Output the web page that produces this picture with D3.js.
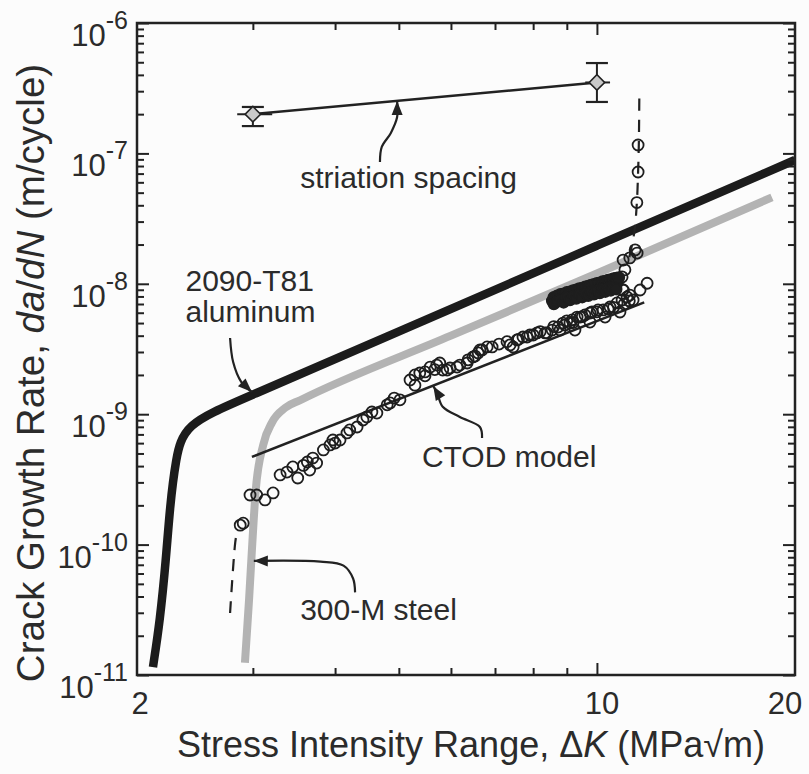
<!DOCTYPE html>
<html>
<head>
<meta charset="utf-8">
<script src="https://cdn.jsdelivr.net/npm/d3@7/dist/d3.min.js"></script>
<style>
  html,body{margin:0;padding:0;background:#fcfcfc;}
  svg{display:block;}
  text{font-family:"Liberation Sans",Arial,Helvetica,sans-serif;fill:#2b2b2b;}
</style>
</head>
<body>
<svg id="chart" width="809" height="774"></svg>
<script>
// ---------------- data (ΔK in MPa√m, da/dN in m/cycle) ----------------
const xTickMajor = [2, 10, 20];
const xTickMinor = [3, 4, 5, 6, 7, 8, 9];
const yDecades = [-11, -10, -9, -8, -7, -6];

// 2090-T81 aluminum (thick black) – control points of the smooth curve
const alK = [2.115, 2.168, 2.213, 2.245, 2.29, 2.357, 2.87, 5.0, 10.0, 20.0];
const alR = [1.15e-11, 2.64e-11, 7.6e-11, 2.0e-10, 4.5e-10, 8.41e-10, 1.28e-9, 4.31e-9, 1.96e-8, 8.9e-8];

// 300-M steel (thick gray)
const stK = [2.918, 2.96, 2.99, 3.03, 3.11, 3.21, 3.36, 3.54, 6.0, 10.0, 18.45];
const stR = [1.24e-11, 3.76e-11, 9.1e-11, 2.6e-10, 5.8e-10, 8.7e-10, 1.12e-9, 1.28e-9, 4.0e-9, 1.2e-8, 4.6e-8];

// CTOD model (thin line)
const ctodK = [2.99, 11.8];
const ctodR = [4.7e-10, 7.2e-9];

// dashed fit segments through the 300-M data
const dashLowK = [2.77, 2.82, 2.84];
const dashLowR = [2.99e-11, 1.03e-10, 1.29e-10];
const dashHighK = [11.2, 11.4, 11.5, 11.55, 11.58, 11.6];
const dashHighR = [1.6e-8, 2.5e-8, 4.2e-8, 7.2e-8, 1.2e-7, 2.8e-7];

// striation spacing
const striK = [3.0, 10.0];
const striR = [2.0e-7, 3.5e-7];
const striRLo = [1.62e-7, 2.48e-7];
const striRHi = [2.27e-7, 4.93e-7];
const striKLo = [2.84, 9.6];
const striKHi = [3.21, 10.47];

// 300-M steel experimental data (open circles)
const openK = [
  2.87, 2.90, 2.97, 3.04, 3.13, 3.22, 3.30, 3.38, 3.45, 3.51, 3.58, 3.63, 3.66, 3.70, 3.75, 3.84, 3.93,
  3.97, 4.00, 4.07, 4.17, 4.21, 4.32, 4.41, 4.47, 4.55, 4.63, 4.80, 4.85, 4.92, 5.02, 5.20, 5.29, 5.29,
  5.38, 5.48, 5.48, 5.58, 5.67, 5.71, 5.77, 5.83, 5.92, 5.98, 6.13, 6.19, 6.35, 6.37, 6.48, 6.53, 6.60,
  6.64, 6.69, 6.81, 6.93, 7.10, 7.30, 7.38, 7.46, 7.56, 7.60, 7.72, 7.83, 7.91, 8.00, 8.11, 8.20, 8.34,
  8.40, 8.55, 8.60, 8.73, 8.79, 8.88, 8.94, 9.00, 9.10, 9.17, 9.20, 9.26, 9.33, 9.43, 9.50, 9.59, 9.76,
  9.76, 9.83, 10.0, 10.04, 10.22, 10.29, 10.40, 10.47, 10.60, 10.73, 10.84, 10.92, 11.0, 11.11, 11.20,
  11.35, 11.63, 11.92,
  // rising to fracture
  10.92, 10.96, 11.03, 10.96, 11.22, 11.43, 11.51, 10.96, 11.22, 11.5, 11.55, 11.55
];
const openR = [
  1.41e-10, 1.46e-10, 2.40e-10, 2.40e-10, 2.20e-10, 2.49e-10, 3.42e-10, 3.60e-10, 3.94e-10, 3.24e-10, 4.05e-10, 4.30e-10, 3.73e-10, 4.61e-10, 4.22e-10, 5.32e-10, 5.81e-10,
  6.34e-10, 6.01e-10, 6.34e-10, 7.18e-10, 7.57e-10, 7.98e-10, 9.03e-10, 9.52e-10, 1.04e-9, 1.02e-9, 1.18e-9, 1.22e-9, 1.33e-9, 1.29e-9, 1.83e-9, 1.67e-9, 2.0e-9,
  2.07e-9, 1.97e-9, 2.11e-9, 2.30e-9, 2.20e-9, 2.38e-9, 2.47e-9, 2.18e-9, 2.18e-9, 2.26e-9, 2.30e-9, 2.38e-9, 2.47e-9, 2.61e-9, 2.75e-9, 2.79e-9, 2.95e-9,
  3.11e-9, 3.11e-9, 3.28e-9, 3.28e-9, 3.45e-9, 3.60e-9, 3.40e-9, 3.28e-9, 3.71e-9, 3.75e-9, 3.91e-9, 3.91e-9, 4.05e-9, 4.05e-9, 4.20e-9, 4.30e-9, 4.20e-9,
  4.20e-9, 4.42e-9, 4.70e-9, 4.66e-9, 4.42e-9, 5.00e-9, 4.83e-9, 5.20e-9, 5.00e-9, 5.28e-9, 5.05e-9, 4.42e-9, 5.56e-9, 5.56e-9, 5.60e-9, 5.77e-9, 5.97e-9,
  5.09e-9, 6.08e-9, 6.10e-9, 6.30e-9, 6.30e-9, 5.56e-9, 6.40e-9, 6.64e-9, 6.60e-9, 7.13e-9, 6.08e-9, 7.51e-9, 7.00e-9, 7.92e-9, 7.40e-9,
  7.51e-9, 8.96e-9, 1.01e-8,
  1.13e-8, 1.52e-8, 1.28e-8, 8.96e-9, 1.58e-8, 1.82e-8, 1.72e-8, 8.96e-9, 8.2e-9, 4.2e-8, 7.2e-8, 1.16e-7
];

// dense band of filled symbols
const fillK = [
  8.55, 8.6, 8.65, 8.7, 8.75, 8.8, 8.85, 8.9, 8.95, 9.0, 9.05, 9.1, 9.15, 9.2, 9.25, 9.3, 9.35, 9.4, 9.45,
  9.5, 9.55, 9.6, 9.65, 9.7, 9.75, 9.8, 9.85, 9.9, 9.95, 10.0, 10.05, 10.1, 10.15, 10.2, 10.25, 10.3,
  10.35, 10.4, 10.45, 10.5, 10.55, 10.6, 10.65, 10.7, 10.75, 10.8,
  8.6, 8.7, 8.8, 8.9, 9.0, 9.1, 9.2, 9.3, 9.4, 9.5, 9.6, 9.7, 9.8, 9.9, 10.0, 10.1, 10.2, 10.3, 10.4,
  10.5, 10.6, 10.7
];
const fillR = [
  7.4e-9, 7.9e-9, 7.2e-9, 8.1e-9, 7.5e-9, 8.3e-9, 7.6e-9, 8.4e-9, 7.8e-9, 8.6e-9, 7.9e-9, 8.7e-9, 8.0e-9, 8.9e-9, 8.1e-9, 9.0e-9, 8.2e-9, 9.2e-9, 8.4e-9,
  9.3e-9, 8.5e-9, 9.5e-9, 8.6e-9, 9.6e-9, 8.8e-9, 9.8e-9, 8.9e-9, 9.9e-9, 9.0e-9, 1.01e-8, 9.2e-9, 1.02e-8, 9.3e-9, 1.04e-8, 9.5e-9, 1.05e-8,
  9.6e-9, 1.07e-8, 9.8e-9, 1.08e-8, 9.9e-9, 1.10e-8, 1.0e-8, 1.11e-8, 1.02e-8, 1.12e-8,
  7.0e-9, 7.3e-9, 7.6e-9, 7.2e-9, 7.9e-9, 7.5e-9, 8.0e-9, 7.7e-9, 8.3e-9, 7.9e-9, 8.5e-9, 8.1e-9, 8.6e-9, 8.3e-9, 8.8e-9, 8.5e-9, 9.0e-9, 8.7e-9, 9.2e-9,
  8.9e-9, 9.4e-9, 9.1e-9
];

// annotations (positions in data units)
const labelText = ["striation spacing", "2090-T81", "aluminum", "CTOD model", "300-M steel"];
const labelK = [3.54, 2.37, 2.37, 5.42, 3.54];
const labelR = [5.43e-8, 8.81e-9, 5.09e-9, 3.94e-10, 2.64e-11];

const arrowStriK = [4.68, 4.71, 4.86, 4.97, 4.97];
const arrowStriR = [8.59e-8, 1.12e-7, 1.43e-7, 1.90e-7, 2.52e-7];
const arrowAlK = [2.77, 2.80, 2.88, 2.99];
const arrowAlR = [3.84e-9, 2.51e-9, 1.77e-9, 1.48e-9];
const arrowCtK = [6.69, 6.64, 6.19, 5.83, 5.71, 5.64];
const arrowCtR = [6.57e-10, 7.98e-10, 9.52e-10, 1.14e-9, 1.48e-9, 1.64e-9];
const arrowStK = [4.29, 4.26, 4.12, 3.8, 3.01];
const arrowStR = [4.3e-11, 5.5e-11, 6.9e-11, 7.4e-11, 7.5e-11];

// ---------------- drawing ----------------
const ink = "#222";
const svg = d3.select("#chart");
const W = 809, H = 774;
const pL = 137, pR = 795, pT = 23, pB = 675;

svg.append("rect").attr("width", W).attr("height", H).attr("fill", "#fcfcfc");

const x = d3.scaleLog().domain([2, 20]).range([pL, pR]);
const y = d3.scaleLog().domain([1e-11, 1e-6]).range([pB, pT]);

const zip = (a, b) => a.map((v, i) => [v, b[i]]);
const line = d3.line().x(d => x(d[0])).y(d => y(d[1]));
const smooth = d3.line().x(d => x(d[0])).y(d => y(d[1])).curve(d3.curveMonotoneX);
const basis = d3.line().x(d => x(d[0])).y(d => y(d[1])).curve(d3.curveBasis);
const curvy = d3.line().x(d => x(d[0])).y(d => y(d[1])).curve(d3.curveCatmullRom.alpha(0.5));

svg.append("clipPath").attr("id", "plotclip")
  .append("rect").attr("x", pL).attr("y", pT).attr("width", pR - pL).attr("height", pB - pT);

const g = svg.append("g").attr("clip-path", "url(#plotclip)");

// 300-M steel gray band
g.append("path").datum(zip(stK, stR)).attr("d", smooth)
  .attr("fill", "none").attr("stroke", "#b3b3b3").attr("stroke-width", 8);

// aluminum black band
g.append("path").datum(zip(alK, alR)).attr("d", basis)
  .attr("fill", "none").attr("stroke", "#1c1c1c").attr("stroke-width", 8.5);

// CTOD line
g.append("path").datum(zip(ctodK, ctodR)).attr("d", line)
  .attr("fill", "none").attr("stroke", ink).attr("stroke-width", 2.5);

// dashed
[zip(dashLowK, dashLowR), zip(dashHighK, dashHighR)].forEach(dd => {
  g.append("path").datum(dd).attr("d", curvy)
    .attr("fill", "none").attr("stroke", ink).attr("stroke-width", 2.2)
    .attr("stroke-dasharray", "12,9");
});

// data circles
g.append("g").selectAll("circle").data(zip(openK, openR)).join("circle")
  .attr("cx", d => x(d[0])).attr("cy", d => y(d[1])).attr("r", 5.5)
  .attr("fill", "none").attr("stroke", "#1e1e1e").attr("stroke-width", 1.8);
g.append("g").selectAll("circle").data(zip(fillK, fillR)).join("circle")
  .attr("cx", d => x(d[0])).attr("cy", d => y(d[1])).attr("r", 5.5)
  .attr("fill", "#1e1e1e").attr("stroke", "#1e1e1e").attr("stroke-width", 1.5);

// striation spacing
g.append("path").datum(zip(striK, striR)).attr("d", line)
  .attr("fill", "none").attr("stroke", ink).attr("stroke-width", 2.5);
striK.forEach((k, i) => {
  const cx = x(k);
  g.append("line").attr("x1", cx).attr("x2", cx).attr("y1", y(striRLo[i])).attr("y2", y(striRHi[i]))
    .attr("stroke", ink).attr("stroke-width", 2);
  [striRLo[i], striRHi[i]].forEach(r => {
    g.append("line").attr("x1", cx - 11).attr("x2", cx + 11).attr("y1", y(r)).attr("y2", y(r))
      .attr("stroke", ink).attr("stroke-width", 2.2);
  });
  g.append("line").attr("x1", x(striKLo[i])).attr("x2", x(striKHi[i])).attr("y1", y(striR[i])).attr("y2", y(striR[i]))
    .attr("stroke", ink).attr("stroke-width", 2);
  g.append("path").attr("d", d3.symbol(d3.symbolSquare, 120)())
    .attr("transform", `translate(${cx},${y(striR[i])}) rotate(45)`)
    .attr("fill", "#c9c9c9").attr("stroke", ink).attr("stroke-width", 1.6);
});

// arrows
function arrow(ks, rs) {
  const pts = zip(ks, rs);
  svg.append("path").datum(pts).attr("d", curvy)
    .attr("fill", "none").attr("stroke", ink).attr("stroke-width", 2.2);
  const n = pts.length;
  const tx = x(pts[n - 1][0]), ty = y(pts[n - 1][1]);
  const px = x(pts[n - 2][0]), py = y(pts[n - 2][1]);
  const ang = Math.atan2(ty - py, tx - px) * 180 / Math.PI;
  svg.append("path").attr("d", "M0,0 L-14,-5.5 L-14,5.5 Z")
    .attr("transform", `translate(${tx},${ty}) rotate(${ang})`)
    .attr("fill", ink);
}
arrow(arrowStriK, arrowStriR);
arrow(arrowAlK, arrowAlR);
arrow(arrowCtK, arrowCtR);
arrow(arrowStK, arrowStR);

// labels
labelText.forEach((t, i) => {
  svg.append("text").attr("x", x(labelK[i])).attr("y", y(labelR[i]))
    .attr("font-size", 30).text(t);
});

// axes ticks (inward)
const yMinor = [];
yDecades.slice(0, -1).forEach(e => { for (let m = 2; m <= 9; m++) yMinor.push(m * Math.pow(10, e)); });
const yMajor = yDecades.map(e => Math.pow(10, e));

function tickStyle(sel) {
  sel.select(".domain").remove();
  sel.selectAll("line").attr("stroke", ink).attr("stroke-width", 2);
  sel.selectAll("text").remove();
}
svg.append("g").attr("transform", `translate(0,${pB})`)
  .call(d3.axisBottom(x).tickValues(xTickMinor).tickSize(-7)).call(tickStyle);
svg.append("g").attr("transform", `translate(0,${pB})`)
  .call(d3.axisBottom(x).tickValues([10]).tickSize(-12)).call(tickStyle);
svg.append("g").attr("transform", `translate(0,${pT})`)
  .call(d3.axisTop(x).tickValues(xTickMinor).tickSize(-7)).call(tickStyle);
svg.append("g").attr("transform", `translate(0,${pT})`)
  .call(d3.axisTop(x).tickValues([10]).tickSize(-12)).call(tickStyle);
svg.append("g").attr("transform", `translate(${pL},0)`)
  .call(d3.axisLeft(y).tickValues(yMinor).tickSize(-7)).call(tickStyle);
svg.append("g").attr("transform", `translate(${pL},0)`)
  .call(d3.axisLeft(y).tickValues(yMajor).tickSize(-12)).call(tickStyle);
svg.append("g").attr("transform", `translate(${pR},0)`)
  .call(d3.axisRight(y).tickValues(yMinor).tickSize(-7)).call(tickStyle);
svg.append("g").attr("transform", `translate(${pR},0)`)
  .call(d3.axisRight(y).tickValues(yMajor).tickSize(-12)).call(tickStyle);

// frame
svg.append("rect").attr("x", pL).attr("y", pT).attr("width", pR - pL).attr("height", pB - pT)
  .attr("fill", "none").attr("stroke", ink).attr("stroke-width", 2.5);

// y tick labels
yDecades.forEach(e => {
  const t = svg.append("text").attr("x", pL - 9).attr("y", y(Math.pow(10, e)) + 23)
    .attr("text-anchor", "end").attr("font-size", 31);
  t.append("tspan").text("10");
  t.append("tspan").attr("dy", -17).attr("font-size", 25).text(String(e));
});

// x tick labels
const xOff = [3, 5, -10];
xTickMajor.forEach((v, i) => {
  svg.append("text").attr("x", x(v) + xOff[i]).attr("y", pB + 39)
    .attr("text-anchor", "middle").attr("font-size", 31).text(String(v));
});

// axis titles
const xt = svg.append("text").attr("x", (pL + pR) / 2 + 5).attr("y", 757)
  .attr("text-anchor", "middle").attr("font-size", 36);
xt.append("tspan").text("Stress Intensity Range, \u0394");
xt.append("tspan").attr("font-style", "italic").text("K");
xt.append("tspan").text(" (MPa\u221Am)");

const yt = svg.append("text").attr("transform", "translate(44,373) rotate(-90)")
  .attr("text-anchor", "middle").attr("font-size", 38.5);
yt.append("tspan").text("Crack Growth Rate, ");
yt.append("tspan").attr("font-style", "italic").text("da");
yt.append("tspan").text("/");
yt.append("tspan").attr("font-style", "italic").text("dN");
yt.append("tspan").text(" (m/cycle)");
</script>
</body>
</html>
